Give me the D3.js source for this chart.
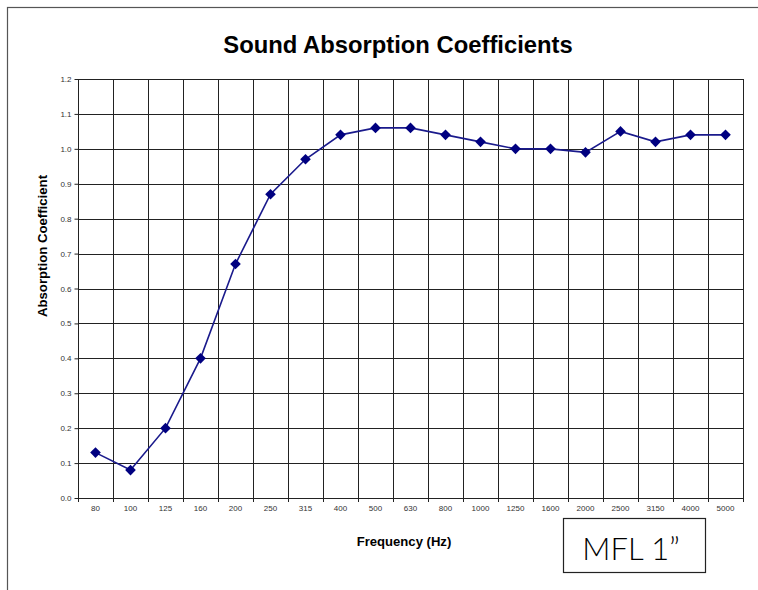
<!DOCTYPE html>
<html>
<head>
<meta charset="utf-8">
<script src="https://cdn.jsdelivr.net/npm/d3@7"></script>
<style>
  body { margin: 0; background: #fff; }
  svg { display: block; font-family: "Liberation Sans", Arial, sans-serif; }
</style>
</head>
<body>
<svg id="chart" width="758" height="590"></svg>
<script>
const frequencies = ["80", "100", "125", "160", "200", "250", "315", "400", "500", "630",
  "800", "1000", "1250", "1600", "2000", "2500", "3150", "4000", "5000"];
const absorption = [0.13, 0.08, 0.20, 0.40, 0.67, 0.87, 0.97, 1.04, 1.06, 1.06,
  1.04, 1.02, 1.00, 1.00, 0.99, 1.05, 1.02, 1.04, 1.04];
const yTicks = [0, 0.1, 0.2, 0.3, 0.4, 0.5, 0.6, 0.7, 0.8, 0.9, 1.0, 1.1, 1.2];

const svg = d3.select("#chart");
const margin = { left: 78, right: 15, top: 79, bottom: 92 };
const width = 758, height = 590;

// outer frame (runs off the right and bottom edges)
svg.append("rect")
  .attr("x", 7.5).attr("y", 7.5)
  .attr("width", 760).attr("height", 600)
  .attr("fill", "none").attr("stroke", "#555").attr("stroke-width", 1.2);

const x = d3.scaleBand()
  .domain(frequencies)
  .range([margin.left, width - margin.right]);

const y = d3.scaleLinear()
  .domain([0, 1.2])
  .range([height - margin.bottom, margin.top]);

const grid = svg.append("g").attr("stroke", "#222").attr("stroke-width", 1);

grid.selectAll("line.h")
  .data(yTicks)
  .join("line")
  .attr("class", "h")
  .attr("x1", margin.left).attr("x2", width - margin.right)
  .attr("y1", (d) => Math.round(y(d)) + 0.5).attr("y2", (d) => Math.round(y(d)) + 0.5);

const bounds = frequencies.map((f) => x(f)).concat([x.range()[1]]);
grid.selectAll("line.v")
  .data(bounds)
  .join("line")
  .attr("class", "v")
  .attr("x1", (d) => Math.round(d) + 0.5).attr("x2", (d) => Math.round(d) + 0.5)
  .attr("y1", margin.top).attr("y2", height - margin.bottom);

// y axis
svg.append("g")
  .attr("transform", `translate(${margin.left + 0.5},0)`)
  .call(d3.axisLeft(y).tickValues(yTicks).tickFormat(d3.format(".1f")).tickSize(4).tickPadding(3))
  .call((g) => g.select(".domain").remove())
  .call((g) => g.selectAll(".tick line").attr("stroke", "#222"))
  .call((g) => g.selectAll("text").attr("font-size", 8).attr("fill", "#333")
    .attr("font-family", "Liberation Sans, Arial, sans-serif"));

// x axis: labels centred in bands, ticks at band boundaries
const xAxis = svg.append("g")
  .attr("transform", `translate(0,${y(0)})`);
xAxis.selectAll("line")
  .data(bounds)
  .join("line")
  .attr("x1", (d) => Math.round(d) + 0.5).attr("x2", (d) => Math.round(d) + 0.5)
  .attr("y1", 0).attr("y2", 4)
  .attr("stroke", "#222");
xAxis.selectAll("text")
  .data(frequencies)
  .join("text")
  .attr("x", (d) => x(d) + x.bandwidth() / 2)
  .attr("y", 13)
  .attr("text-anchor", "middle")
  .attr("font-size", 8)
  .attr("fill", "#333")
  .text((d) => d);

// series
const line = d3.line()
  .x((d, i) => x(frequencies[i]) + x.bandwidth() / 2)
  .y((d) => y(d));

svg.append("path")
  .datum(absorption)
  .attr("d", line)
  .attr("fill", "none")
  .attr("stroke", "#1a1a8c")
  .attr("stroke-width", 1.6);

svg.append("g")
  .selectAll("path")
  .data(absorption)
  .join("path")
  .attr("d", d3.symbol(d3.symbolDiamond2, 72))
  .attr("transform", (d, i) => `translate(${x(frequencies[i]) + x.bandwidth() / 2},${y(d)})`)
  .attr("fill", "#000080");

// titles
svg.append("text")
  .attr("x", 398).attr("y", 53)
  .attr("text-anchor", "middle")
  .attr("font-size", 23.8).attr("font-weight", "bold")
  .text("Sound Absorption Coefficients");

svg.append("text")
  .attr("x", 404).attr("y", 546)
  .attr("text-anchor", "middle")
  .attr("font-size", 13.1).attr("font-weight", "bold")
  .text("Frequency (Hz)");

svg.append("text")
  .attr("transform", "translate(47,246) rotate(-90)")
  .attr("text-anchor", "middle")
  .attr("font-size", 13.2).attr("font-weight", "bold")
  .text("Absorption Coefficient");

// label box
svg.append("rect")
  .attr("x", 563.5).attr("y", 518.5)
  .attr("width", 142).attr("height", 54)
  .attr("fill", "#fff").attr("stroke", "#222").attr("stroke-width", 1.2);

svg.append("text")
  .attr("x", 631).attr("y", 560)
  .attr("text-anchor", "middle")
  .attr("font-family", "Lato, 'Open Sans', sans-serif")
  .attr("font-weight", 300)
  .attr("font-size", 31)
  .text("MFL 1\u201D");
</script>
</body>
</html>
